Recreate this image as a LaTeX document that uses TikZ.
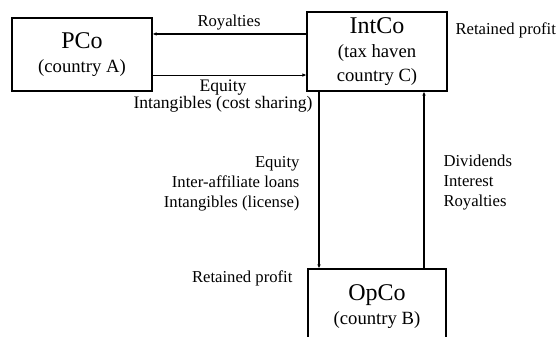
\documentclass[tikz,border=0pt]{standalone}
\usepackage{fontspec}
\setmainfont{Liberation Serif}
\usetikzlibrary{%
  arrows.meta,
  calc
}

\begin{document}
\begin{tikzpicture}[x=0.75pt, y=-0.75pt, >={Latex[length=3pt,width=2.6pt]}, line width=0.8pt,
    firm/.style={draw, rectangle, align=center, font=\fontsize{14}{18}\selectfont},
    lbl/.style={font=\fontsize{12.5}{15}\selectfont, inner sep=0pt}]
    \clip (0,0) rectangle (560,336);

    % the three companies
    \node[firm, minimum width=105pt, minimum height=54.75pt] (PCo) at (82,54.5)
      {{\fontsize{18}{18}\selectfont PCo}\\(country A)};
    \node[firm, minimum width=105pt, minimum height=59.25pt] (IntCo) at (377,51.5)
      {{\fontsize{18}{18}\selectfont IntCo}\\(tax haven\\country C)};
    \node[firm, minimum width=103.5pt, minimum height=57pt] (OpCo) at (377,307)
      {{\fontsize{18}{18}\selectfont OpCo}\\(country B)};

    % flows between PCo and IntCo
    \coordinate (ro) at ([yshift=15.4pt]PCo.east);
    \coordinate (eq) at ([yshift=-15.4pt]PCo.east);
    \draw[<-] (ro) -- (ro -| IntCo.west);
    \draw[->] (eq) -- (eq -| IntCo.west);

    % flows between IntCo and OpCo
    \coordinate (dn) at ([xshift=-43.5pt]IntCo.south);
    \coordinate (up) at ([xshift=35.25pt]IntCo.south);
    \draw[->] (dn) -- (dn |- OpCo.north);
    \draw[<-] (up) -- (up |- OpCo.north);

    % labels
    \node[lbl] (royA) at (229,23) {Royalties};
    \node[lbl, align=center, font=\fontsize{13.2}{11.5}\selectfont] (eqA) at (223,96)
      {Equity\\Intangibles (cost sharing)};
    \node[lbl, anchor=west] (retC) at (455,30) {Retained profit};
    \node[lbl, align=right, anchor=east] (eqB) at (300,184)
      {Equity\\Inter-affiliate loans\\Intangibles (license)};
    \node[lbl, align=left, anchor=west] (divB) at (443,183)
      {Dividends\\Interest\\Royalties};
    \node[lbl, anchor=east] (retB) at (293,278) {Retained profit};

\end{tikzpicture}
\end{document}
